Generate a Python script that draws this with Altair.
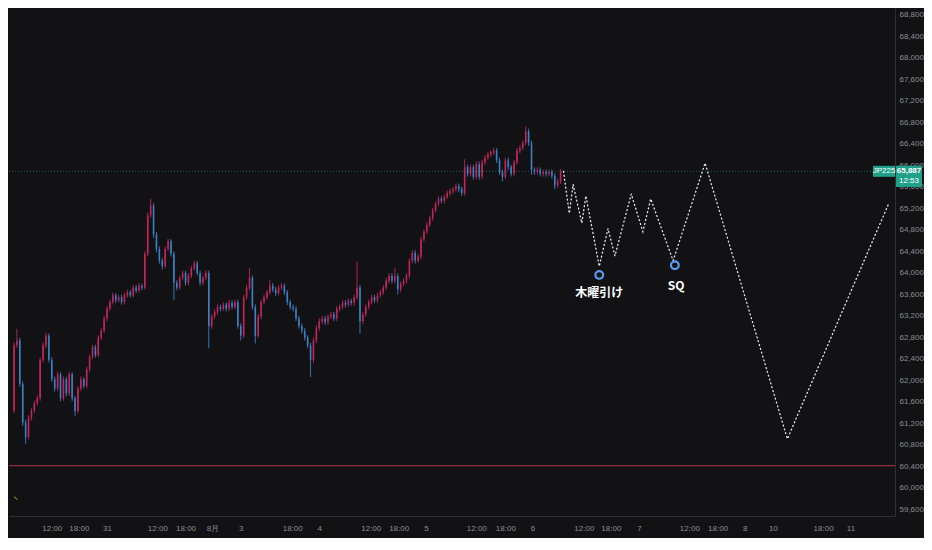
import json
import numpy as np
import pandas as pd
import altair as alt

# ---------------- data ----------------
first_open = 61430
closes = [62650, 62740, 61930, 61215, 60945, 61305, 61430, 61575, 61665, 62380,
          62650, 62830, 62380, 62020, 61845, 62110, 61665, 62020, 61755, 62110,
          61665, 61430, 61845, 62020, 61895, 62200, 62435, 62615, 62470, 62795,
          62920, 63150, 63330, 63455, 63580, 63490, 63545, 63455, 63580, 63635,
          63580, 63725, 63670, 63760, 63725, 64355, 65070, 65250, 64710, 64440,
          64225, 64120, 64440, 64585, 64355, 63815, 63725, 63905, 63995, 63815,
          63940, 64085, 64175, 63995, 63815, 63905, 63995, 63010, 63185, 63275,
          63365, 63330, 63405, 63330, 63440, 63365, 63455, 63010, 62830, 63545,
          63725, 63905, 63365, 62830, 63185, 63455, 63545, 63635, 63760, 63690,
          63620, 63725, 63760, 63635, 63455, 63365, 63330, 63150, 63010, 62920,
          62795, 62650, 62380, 62740, 62970, 63100, 63150, 63080, 63185, 63225,
          63150, 63330, 63365, 63440, 63405, 63475, 63440, 63545, 63725, 63100,
          63225, 63365, 63455, 63545, 63490, 63580, 63635, 63725, 63850, 63940,
          63850, 63940, 63690, 63795, 63850, 63940, 64225, 64370, 64225, 64300,
          64620, 64765, 64890, 65015, 65160, 65285, 65375, 65340, 65410, 65480,
          65520, 65555, 65610, 65555, 65480, 65965, 65840, 65965, 65785, 66020,
          65785, 66055, 66145, 66200, 66235, 66270, 66090, 65875, 65785, 66090,
          65965, 65840, 66055, 66270, 66325, 66415, 66630, 66415, 65915, 65875,
          65915, 65840, 65875, 65840, 65875, 65805, 65625, 65700, 65887]
highs = [62700, 62955, 62790, 61980, 61260, 61350, 61480, 61620, 61720, 62420,
         62700, 62885, 62870, 62430, 62070, 62160, 62150, 62070, 62060, 62160,
         62150, 61710, 61890, 62070, 62060, 62250, 62480, 62660, 62660, 62840,
         62970, 63200, 63380, 63500, 63630, 63620, 63590, 63590, 63630, 63680,
         63680, 63770, 63770, 63810, 63800, 64400, 65120, 65375, 65290, 64760,
         64490, 64270, 64490, 64630, 64630, 64400, 63860, 63950, 64040, 64040,
         63990, 64130, 64220, 64220, 64040, 63950, 64050, 64040, 63230, 63320,
         63410, 63410, 63450, 63450, 63490, 63490, 63500, 63500, 63060, 63590,
         63770, 64085, 63950, 63410, 63230, 63500, 63590, 63680, 63870, 63810,
         63740, 63770, 63810, 63800, 63680, 63500, 63410, 63380, 63200, 63060,
         62970, 62840, 62700, 62790, 63020, 63150, 63200, 63200, 63230, 63270,
         63270, 63380, 63410, 63490, 63490, 63520, 63520, 63590, 64210, 63770,
         63270, 63410, 63500, 63590, 63590, 63630, 63680, 63770, 63900, 63990,
         63990, 64085, 63990, 63840, 63900, 63990, 64270, 64420, 64420, 64350,
         64670, 64810, 64940, 65060, 65210, 65330, 65420, 65420, 65460, 65530,
         65570, 65600, 65660, 65660, 65600, 66110, 66010, 66010, 66010, 66070,
         66070, 66100, 66190, 66250, 66280, 66320, 66320, 66140, 65920, 66140,
         66140, 66010, 66100, 66320, 66370, 66460, 66720, 66680, 66460, 65960,
         65960, 65960, 65920, 65920, 65920, 65920, 65850, 65750, 65930]
lows = [61380, 62600, 61880, 61150, 60820, 60900, 61250, 61390, 61530, 61620,
        62330, 62600, 62330, 61970, 61790, 61800, 61610, 61620, 61700, 61710,
        61610, 61340, 61390, 61800, 61850, 61850, 62160, 62390, 62420, 62430,
        62750, 62880, 63100, 63290, 63410, 63440, 63450, 63410, 63410, 63540,
        63540, 63540, 63620, 63630, 63680, 63690, 64310, 65020, 64650, 64380,
        64170, 64060, 64080, 64400, 64300, 63490, 63670, 63680, 63860, 63760,
        63770, 63900, 64040, 63950, 63760, 63770, 63860, 62595, 62960, 63140,
        63230, 63280, 63290, 63280, 63290, 63320, 63320, 62960, 62740, 62790,
        63500, 63680, 63310, 62685, 62790, 63140, 63410, 63500, 63590, 63640,
        63570, 63580, 63680, 63590, 63400, 63310, 63280, 63100, 62960, 62870,
        62740, 62600, 62060, 62330, 62690, 62920, 63050, 63030, 63030, 63140,
        63100, 63100, 63280, 63320, 63350, 63360, 63390, 63390, 63500, 62865,
        63050, 63180, 63320, 63410, 63440, 63440, 63540, 63590, 63680, 63800,
        63800, 63800, 63600, 63640, 63750, 63800, 63900, 64180, 64170, 64180,
        64250, 64580, 64720, 64850, 64970, 65120, 65240, 65290, 65290, 65370,
        65430, 65470, 65510, 65500, 65430, 65430, 65790, 65790, 65730, 65740,
        65730, 65740, 66010, 66100, 66150, 66190, 66040, 65820, 65700, 65740,
        65910, 65790, 65790, 66010, 66220, 66280, 66370, 66360, 65825, 65820,
        65830, 65790, 65790, 65790, 65790, 65750, 65555, 65580, 65650]

# projected zig-zag path (dotted)
proj_x = [189, 191, 192.3, 195.3, 196.7, 201.3, 204.3, 206.7, 212.3, 216.3, 219, 226.7, 237.7, 266, 301]
proj_p = [65887, 65105, 65645, 64925, 65430, 64120, 64820, 64315, 65465, 64765, 65375, 64225, 66040, 60910, 65305]

# markers and notes
marker_x = [201.3, 227.3]
marker_p = [63960, 64140]
note_text = ["木曜引け", "SQ"]
note_x = [201.3, 227.7]
note_p = [63630, 63745]

last_price = 65887
last_time = "12:53"
symbol = "JP225"
red_level = 60410
ma_x = [0, 1.2]
ma_p = [59834, 59781]

y_ticks = list(range(59600, 69200, 400))
x_tick_pos = [13, 22.3, 32, 49.3, 59, 68.3, 78, 95.7, 105, 122.7, 132.3, 141.7,
              159, 169, 178.3, 196, 205.3, 215, 232.3, 242, 251.3, 261, 278.3, 287.7]
x_tick_lab = ["12:00", "18:00", "31", "12:00", "18:00", "8月", "3", "18:00", "4",
              "12:00", "18:00", "5", "12:00", "18:00", "6", "12:00", "18:00", "7",
              "12:00", "18:00", "8", "10", "18:00", "11"]

# ---------------- styling ----------------
BG = "#121214"
UP = "#c2255c"
DOWN = "#3d7fc4"
AX = "#8a8d94"
W, H = 886, 508

opens = [first_open] + closes[:-1]
df = pd.DataFrame({"i": np.arange(len(closes)), "open": opens, "high": highs,
                   "low": lows, "close": closes})
df["dir"] = np.where(df["close"] >= df["open"], "up", "down")

xs = alt.Scale(domain=[0, 301.3], nice=False, zero=False)
ys = alt.Scale(domain=[59475, 68925], nice=False, zero=False)

label_expr = "%s[indexof(%s, datum.value)]" % (json.dumps(x_tick_lab, ensure_ascii=False),
                                              json.dumps(x_tick_pos))
xaxis = alt.Axis(values=x_tick_pos, labelExpr=label_expr, title=None, grid=False,
                 ticks=False, domainColor="#2e2f33", labelColor=AX, labelFontSize=8,
                 labelFont="Liberation Sans", labelPadding=8, labelOverlap=False,
                 labelFlush=False, minExtent=22, maxExtent=22)
yaxis = alt.Axis(orient="right", values=y_ticks, format=",d", title=None, grid=False,
                 ticks=False, domainColor="#2e2f33", labelColor=AX, labelFontSize=8,
                 labelFont="Liberation Sans", labelPadding=4, labelOverlap=False,
                 labelFlush=False, minExtent=28, maxExtent=28)


def X(f):
    return alt.X(f, type="quantitative", scale=xs, axis=xaxis)


def Y(f):
    return alt.Y(f, type="quantitative", scale=ys, axis=yaxis)


color = alt.Color("dir:N", scale=alt.Scale(domain=["up", "down"], range=[UP, DOWN]), legend=None)

base = alt.Chart(df)
wicks = base.mark_rule(strokeWidth=0.9).encode(x=X("i"), y=Y("low"), y2="high", color=color)
bodies = base.mark_bar(size=1.6).encode(x=X("i"), y=Y("open"), y2="close", color=color)

levels = pd.DataFrame({"p": [last_price]})
price_line = alt.Chart(levels).mark_rule(color="#2a7f6d", strokeDash=[1, 2], strokeWidth=1,
                                         opacity=0.7).encode(y=Y("p"))
red_df = pd.DataFrame({"p": [red_level]})
red_line = alt.Chart(red_df).mark_rule(color="#b23a48", strokeWidth=1).encode(y=Y("p"))

ma_df = pd.DataFrame({"x": ma_x, "p": ma_p})
ma_line = alt.Chart(ma_df).mark_line(color="#c9a227", strokeWidth=1).encode(x=X("x"), y=Y("p"))

proj_df = pd.DataFrame({"x": proj_x, "p": proj_p, "o": range(len(proj_x))})
proj = alt.Chart(proj_df).mark_line(color="#e8e8e8", strokeWidth=1.3, strokeDash=[1, 3],
                                    strokeCap="round").encode(x=X("x"), y=Y("p"), order="o:Q")

mk_df = pd.DataFrame({"x": marker_x, "p": marker_p})
markers = alt.Chart(mk_df).mark_point(shape="circle", size=60, filled=False, stroke="#5b9cf0",
                                      strokeWidth=2.2, fill=BG, fillOpacity=1).encode(x=X("x"), y=Y("p"))

nt_df = pd.DataFrame({"x": note_x, "p": note_p, "t": note_text})
notes = alt.Chart(nt_df).mark_text(color="#ffffff", fontSize=12, fontWeight="bold",
                                   font="Noto Sans CJK JP", baseline="middle",
                                   align="center").encode(x=X("x"), y=Y("p"), text="t:N")

tag_df = pd.DataFrame({"p": [last_price], "sym": [symbol], "val": [f"{last_price:,}"],
                       "tm": [last_time]})
TEAL = "#1fa08a"
sym_box = alt.Chart(tag_df).mark_point(shape="M-1,-0.5H1V0.5H-1Z", size=484, filled=True,
                                       fill=TEAL, opacity=1, strokeWidth=0).encode(
    x=alt.value(W - 11), y=Y("p"))
sym_txt = alt.Chart(tag_df).mark_text(color="#ffffff", fontSize=8, font="Liberation Sans",
                                      baseline="middle", align="center").encode(
    x=alt.value(W - 11), y=Y("p"), text="sym:N")
val_box = alt.Chart(tag_df).mark_point(shape="M-1,-0.82H1V0.82H-1Z", size=676, filled=True,
                                       fill=TEAL, opacity=1, strokeWidth=0, yOffset=5).encode(
    x=alt.value(W + 14), y=Y("p"))
val_txt = alt.Chart(tag_df).mark_text(color="#ffffff", fontSize=8, font="Liberation Sans",
                                      fontWeight="bold", baseline="middle", align="center",
                                      yOffset=0).encode(
    x=alt.value(W + 14), y=Y("p"), text="val:N")
tm_txt = alt.Chart(tag_df).mark_text(color="#ffffff", fontSize=8, font="Liberation Sans",
                                     baseline="middle", align="center", yOffset=10).encode(
    x=alt.value(W + 14), y=Y("p"), text="tm:N")

chart = alt.layer(
    red_line, price_line, ma_line, wicks, bodies, proj, markers, notes,
    sym_box, sym_txt, val_box, val_txt, tm_txt
).properties(
    width=W, height=H, padding=0, background=BG
).configure_view(stroke=None)

chart.save("out.html", embed_options={"renderer": "svg", "actions": False})
